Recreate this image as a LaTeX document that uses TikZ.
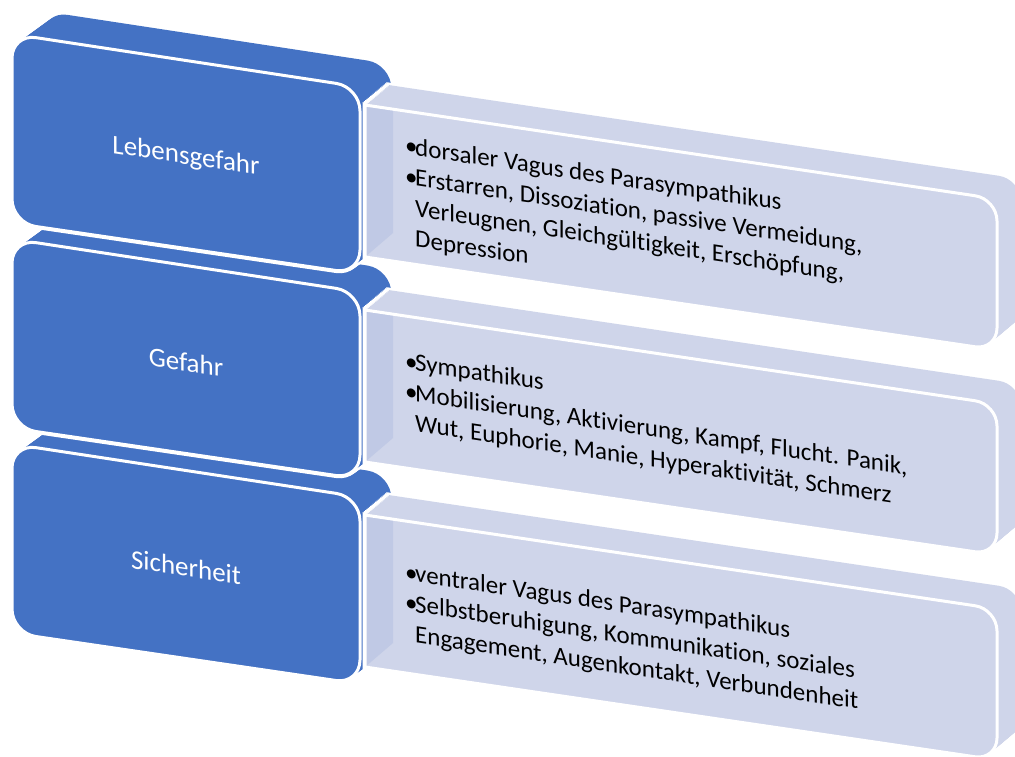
\documentclass[tikz,border=0pt]{standalone}
\usepackage{fontspec}
\setmainfont[Ligatures=NoCommon]{Carlito}
\usetikzlibrary{positioning,calc}
\definecolor{boxblue}{RGB}{68,114,196}
\definecolor{boxlav}{RGB}{207,213,234}
\definecolor{lavside}{RGB}{192,201,229}
\tikzset{
  rowlabel/.style={text=white, font=\fontsize{27}{32}\selectfont, yslant=-0.15, inner sep=0pt},
  rowtext/.style={text=black, font=\fontsize{25}{30.5}\selectfont, align=left, anchor=west, yslant=-0.15, inner sep=0pt},
  gapline/.style={white, line width=5pt},
  faceline/.style={draw=white, line width=3pt},
}
% front faces of one row (row frame, y downwards)
\newcommand{\bluefront}{(12,34) -- (360,87) -- (360,274) -- (12,223) -- cycle}
\newcommand{\lavfront}{(365,257) -- (365,105) [rounded corners=22pt] -- (997,199) -- (997,350) [sharp corners] -- cycle}
\newcommand{\bul}{\makebox[10pt][l]{•}}
\newcommand{\ind}{\hspace*{10pt}}
% #1 row shift, #2 row name, #3 label, #4 text height, #5 items
\newcommand{\blockrow}[5]{%
  \begin{scope}[shift={(0,#1)}]
    % blue block
    \foreach \t in {0,0.05,...,1}
      \draw[gapline, rounded corners=24pt, shift={(\t*33,-\t*24)}] \bluefront;
    \foreach \t in {0,0.05,...,1}
      \fill[boxblue, rounded corners=24pt, shift={(\t*33,-\t*24)}] \bluefront;
    \filldraw[faceline, fill=boxblue, rounded corners=24pt] \bluefront;
    % lavender block
    \foreach \t in {0,0.05,...,1}
      \draw[gapline, shift={(\t*25,-\t*21)}] \lavfront;
    \foreach \t in {0,0.05,...,1}
      \fill[boxlav, shift={(\t*25,-\t*21)}] \lavfront;
    \fill[boxlav] \lavfront;
    \fill[lavside] (365,105) -- (393,109) -- (393,233) -- (365,257) -- cycle;
    \draw[faceline] \lavfront;
    \node[rowlabel] (lab#2) at (186,157) {#3};
    \node[rowtext] (txt#2) at (405,#4) {#5};
  \end{scope}
}

\begin{document}
\begin{tikzpicture}[x=1pt, y=-1pt]
  \useasboundingbox (0,0) rectangle (1015,756);
  % row 3: Sicherheit
  \blockrow{410}{3}{Sicherheit}{194}{\bul ventraler Vagus des Parasympathikus\\
    \bul Selbstberuhigung, Kommunikation, soziales\\
    \ind Engagement, Augenkontakt, Verbundenheit}
  % row 2: Gefahr
  \blockrow{205}{2}{Gefahr}{188}{\bul Sympathikus\\
    \bul Mobilisierung, Aktivierung, Kampf, Flucht. Panik,\\
    \ind Wut, Euphorie, Manie, Hyperaktivität, Schmerz}
  % row 1: Lebensgefahr
  \blockrow{0}{1}{Lebensgefahr}{193}{\bul dorsaler Vagus des Parasympathikus\\
    \bul Erstarren, Dissoziation, passive Vermeidung,\\
    \ind Verleugnen, Gleichgültigkeit, Erschöpfung,\\
    \ind Depression}
\end{tikzpicture}
\end{document}
